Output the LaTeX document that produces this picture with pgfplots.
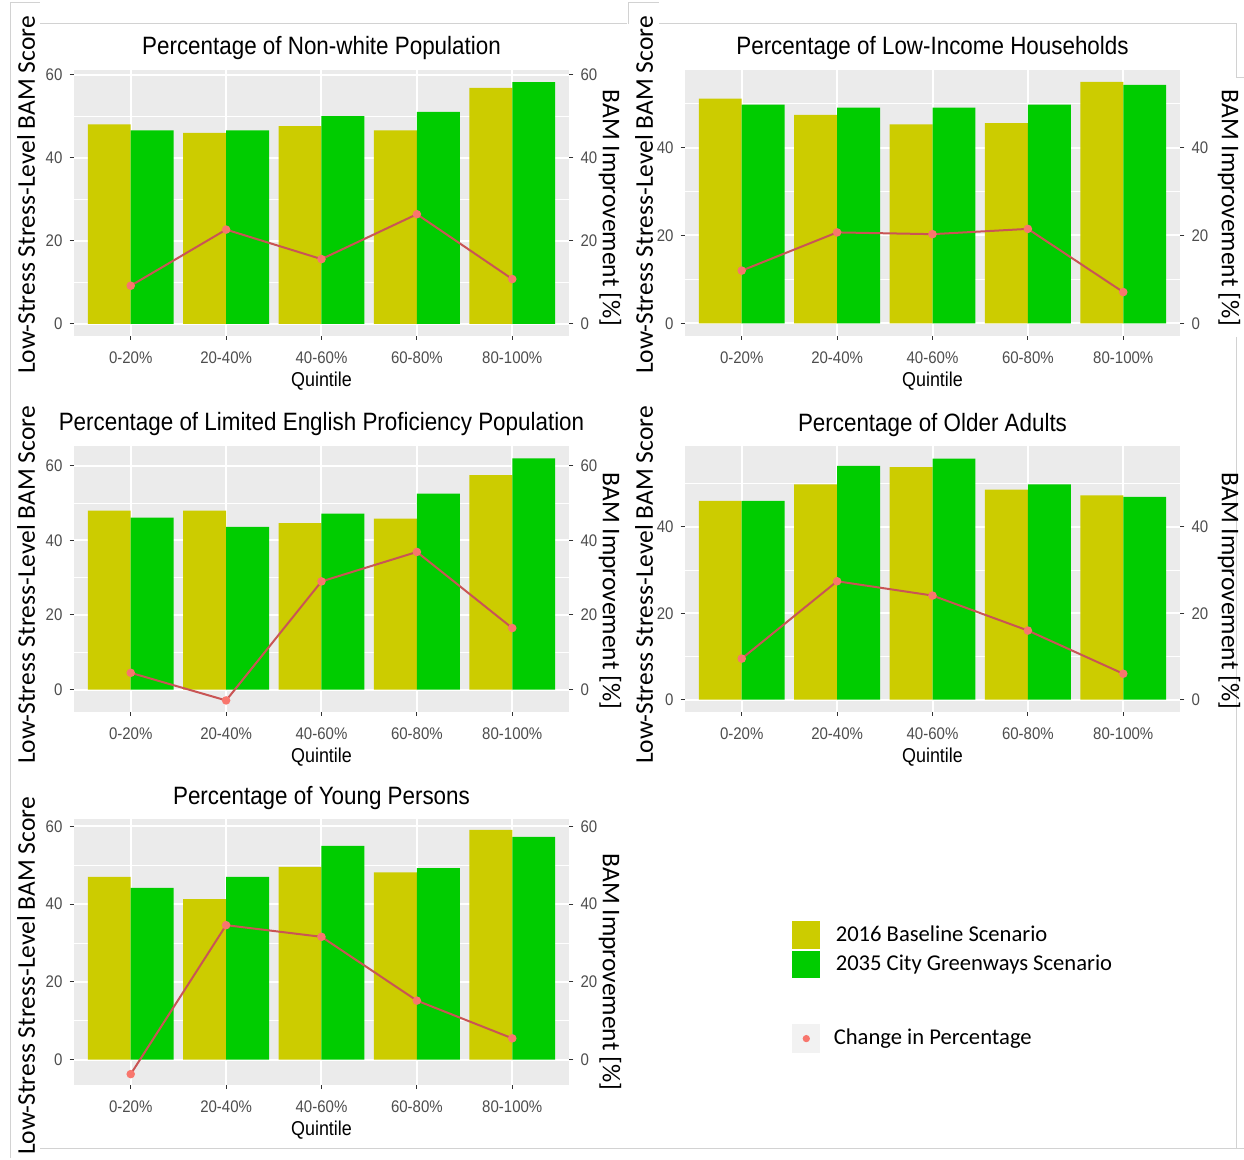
\documentclass[border=0pt]{standalone}
\usepackage{pgfplots}
\pgfplotsset{compat=1.18}
\usepackage{fontspec}
\setmainfont{Liberation Sans}
\newfontfamily\calfont{Carlito}
\definecolor{byellow}{RGB}{204,204,0}
\definecolor{bgreen}{RGB}{0,204,0}
\definecolor{panelgray}{RGB}{235,235,235}
\definecolor{linered}{RGB}{201,85,85}
\definecolor{ptred}{RGB}{248,118,109}
\definecolor{labgray}{RGB}{77,77,77}
\definecolor{tickgray}{RGB}{51,51,51}
\definecolor{framegray}{RGB}{210,210,210}
\definecolor{keygray}{RGB}{242,242,242}

\pgfplotsset{
  /pgf/number format/assume math mode=true,
  ggcommon/.style={scale only axis, width=248pt, height=133pt, anchor=south west,
    xmin=0.4, xmax=5.6, ytick={0,20,40,60}, tick align=outside,
    major tick length=2pt, tick style={tickgray, line width=0.5pt},
    axis line style={draw=none},
    yticklabel style={font=\fontsize{7.5}{9}\selectfont, text=labgray, yscale=1.12}},
  ggmain/.style={ggcommon, axis background/.style={fill=panelgray},
    xtick={1,2,3,4,5}, xticklabels={0-20\%,20-40\%,40-60\%,60-80\%,80-100\%},
    xticklabel style={font=\fontsize{7.5}{9}\selectfont, text=labgray, yscale=1.12, yshift=-1.5pt},
    minor ytick={10,30,50}, grid=both,
    major grid style={white, line width=1pt}, minor grid style={white, line width=0.5pt},
    ytick pos=left, xtick pos=bottom, minor tick length=0pt,
    xlabel={Quintile},
    xlabel style={at={(axis description cs:0.5,0)}, anchor=center, yshift=-22.5pt,
      font=\fontsize{8.95}{10}\selectfont, yscale=1.12},
    title style={at={(axis description cs:0.5,1)}, anchor=base, yshift=1.5pt,
      font=\fontsize{11.2}{13}\selectfont, yscale=1.12}},
  ggright/.style={ggcommon, xtick=\empty, ytick pos=right},
}

\newcommand{\panel}[7]{%
  \begin{axis}[ggmain, at={#1}, ymin=#2, ymax=#3, title={#4}]
    \addplot[ybar, bar width=0.45, bar shift=-0.225, fill=byellow, draw=none] coordinates {#5};
    \addplot[ybar, bar width=0.45, bar shift=0.225, fill=bgreen, draw=none] coordinates {#6};
    \addplot[linered, line width=1pt, mark=*, mark size=1.6pt,
      mark options={fill=ptred, draw=ptred}] coordinates {#7};
  \end{axis}
  \begin{axis}[ggright, at={#1}, ymin=#2, ymax=#3]
  \end{axis}}

\begin{document}
\begin{tikzpicture}
\useasboundingbox (0pt,0pt) rectangle (622pt,-580pt);

% frame lines (screenshot artefacts)
\begin{scope}[x=0.5pt, y=-0.5pt, framegray, line width=0.5pt]
  \draw (10,3) -- (10,1158);
  \draw (10,3) -- (40,3);
  \draw (40,24) -- (627,24);
  \draw (628,3) -- (628,24);
  \draw (628,3) -- (659,3);
  \draw (659,24) -- (1236,24) -- (1236,78) -- (1244,78);
  \draw (1236,337) -- (1236,1148);
  \draw (40,1148) -- (1244,1148);
\end{scope}

\panel{(36.75pt,-168pt)}{-2.9}{61.1}{Percentage of Non-white Population}
  {(1,48.0) (2,46.0) (3,47.6) (4,46.6) (5,56.8)}
  {(1,46.6) (2,46.6) (3,50.0) (4,51.0) (5,58.2)}
  {(1,9.2) (2,22.7) (3,15.6) (4,26.4) (5,10.8)}

\panel{(342.25pt,-168pt)}{-2.9}{57.7}{Percentage of Low-Income Households}
  {(1,51.2) (2,47.5) (3,45.3) (4,45.6) (5,55.0)}
  {(1,49.8) (2,49.1) (3,49.1) (4,49.8) (5,54.3)}
  {(1,12.0) (2,20.7) (3,20.3) (4,21.5) (5,7.1)}

\panel{(36.75pt,-356pt)}{-6.0}{65.3}{Percentage of Limited English Proficiency Population}
  {(1,48.0) (2,48.0) (3,44.6) (4,45.8) (5,57.5)}
  {(1,46.1) (2,43.6) (3,47.2) (4,52.5) (5,62.0)}
  {(1,4.5) (2,-2.9) (3,29.0) (4,36.9) (5,16.5)}

\panel{(342.25pt,-356pt)}{-2.85}{58.7}{Percentage of Older Adults}
  {(1,46.0) (2,49.8) (3,53.8) (4,48.6) (5,47.3)}
  {(1,46.0) (2,54.1) (3,55.8) (4,49.8) (5,46.9)}
  {(1,9.5) (2,27.4) (3,24.1) (4,16.0) (5,6.0)}

\panel{(36.75pt,-542.5pt)}{-6.5}{61.9}{Percentage of Young Persons}
  {(1,47.0) (2,41.3) (3,49.6) (4,48.2) (5,59.1)}
  {(1,44.2) (2,47.0) (3,55.0) (4,49.3) (5,57.3)}
  {(1,-3.7) (2,34.6) (3,31.6) (4,15.2) (5,5.5)}

% axis titles (Calibri-like)
\begin{scope}[x=0.5pt, y=-0.5pt]
  \tikzset{ylab/.style={font=\calfont\fontsize{12.75}{14}\selectfont, inner sep=0pt}}
  \node[ylab, rotate=90]  at (26,195)   {Low-Stress Stress-Level BAM Score};
  \node[ylab, rotate=-90] at (610,208)  {BAM Improvement [\%]};
  \node[ylab, rotate=90]  at (644,195)  {Low-Stress Stress-Level BAM Score};
  \node[ylab, rotate=-90] at (1229,208) {BAM Improvement [\%]};
  \node[ylab, rotate=90]  at (26,585)   {Low-Stress Stress-Level BAM Score};
  \node[ylab, rotate=-90] at (610,591)  {BAM Improvement [\%]};
  \node[ylab, rotate=90]  at (644,585)  {Low-Stress Stress-Level BAM Score};
  \node[ylab, rotate=-90] at (1229,591) {BAM Improvement [\%]};
  \node[ylab, rotate=90]  at (26,976)   {Low-Stress Stress-Level BAM Score};
  \node[ylab, rotate=-90] at (610,972)  {BAM Improvement [\%]};
\end{scope}

% legends
\begin{axis}[hide axis, scale only axis, width=10pt, height=10pt,
  xmin=0, xmax=1, ymin=0, ymax=1, anchor=north west, at={(396pt,-460.5pt)},
  legend style={at={(0,1)}, anchor=north west, draw=none, fill=none, inner sep=0pt,
    row sep=1pt, font=\calfont\fontsize{11.3}{13}\selectfont, cells={anchor=west}},
  legend cell align=left]
  \addlegendimage{legend image code/.code={\fill[byellow] (0pt,-6.6pt) rectangle (13.5pt,6.6pt);
    \path[draw=none, fill=none] (0pt,0pt) -- (19.5pt,0pt);}}
  \addlegendentry{2016 Baseline Scenario}
  \addlegendimage{legend image code/.code={\fill[bgreen] (0pt,-6.6pt) rectangle (13.5pt,6.6pt);
    \path[draw=none, fill=none] (0pt,0pt) -- (19.5pt,0pt);}}
  \addlegendentry{2035 City Greenways Scenario}
\end{axis}
\begin{axis}[hide axis, scale only axis, width=10pt, height=10pt,
  xmin=0, xmax=1, ymin=0, ymax=1, anchor=north west, at={(396pt,-512pt)},
  legend style={at={(0,1)}, anchor=north west, draw=none, fill=none, inner sep=0pt,
    font=\calfont\fontsize{11.3}{13}\selectfont, cells={anchor=west}},
  legend cell align=left]
  \addlegendimage{legend image code/.code={\fill[keygray] (0pt,-6.9pt) rectangle (13.5pt,6.9pt);
    \fill[ptred] (6.75pt,0pt) circle (1.6pt);
    \path[draw=none, fill=none] (0pt,0pt) -- (18.5pt,0pt);}}
  \addlegendentry{Change in Percentage}
\end{axis}
\end{tikzpicture}
\end{document}
